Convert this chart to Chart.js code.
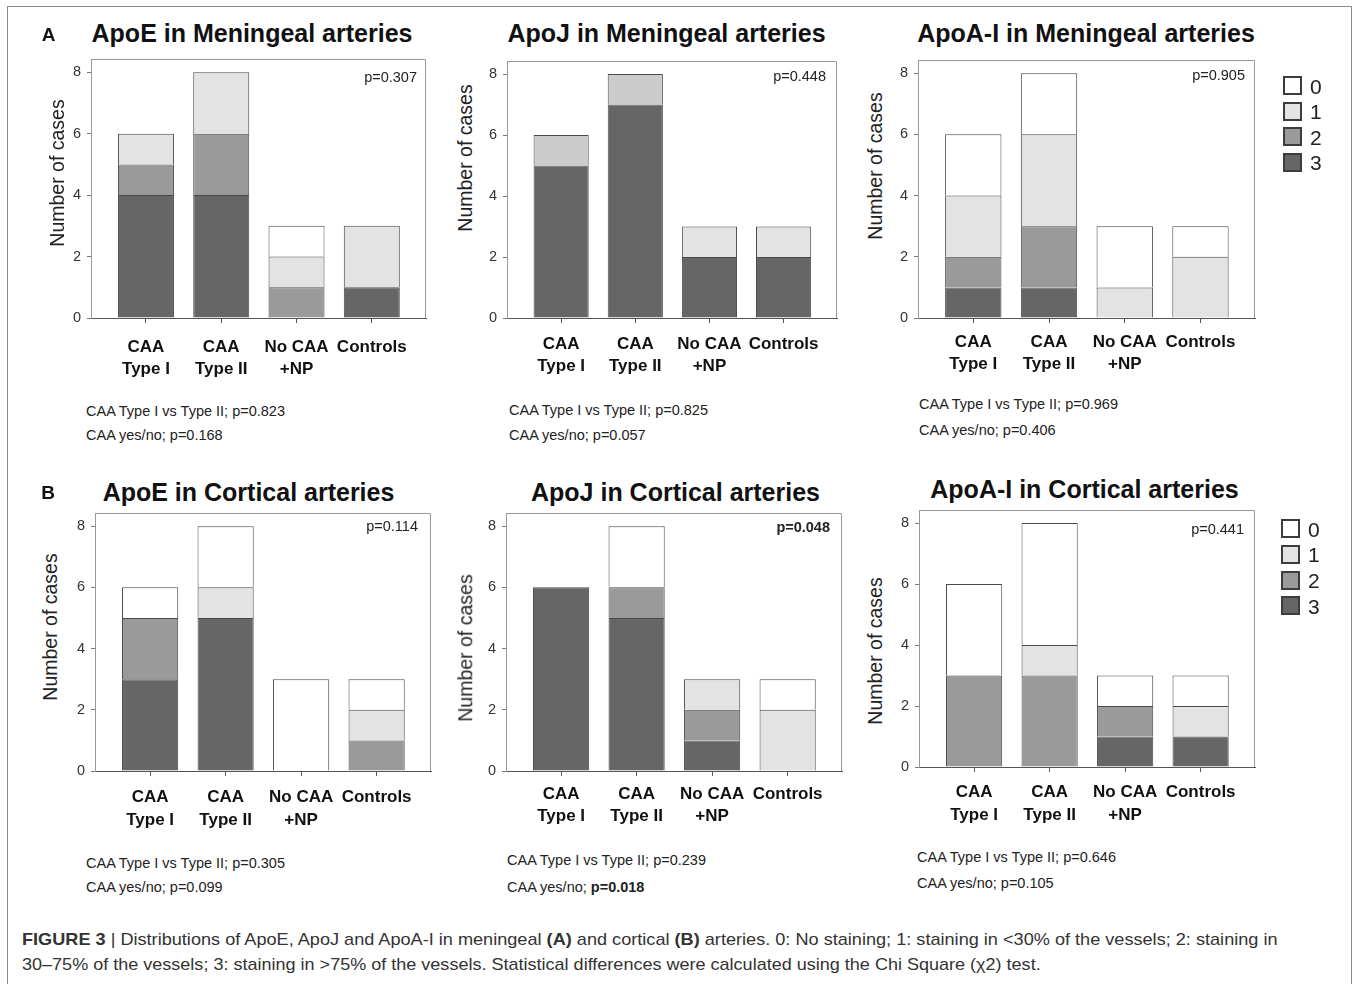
<!DOCTYPE html>
<html>
<head>
<meta charset="utf-8">
<script src="https://cdn.jsdelivr.net/npm/chart.js"></script>
<style>
body { margin:0; background:#fff; width:1357px; height:984px; position:relative; overflow:hidden;
       font-family:"Liberation Sans", Arial, sans-serif; color:#222; }
.t { position:absolute; white-space:nowrap; line-height:1; }
canvas { position:absolute; }
#frame { position:absolute; left:7px; top:6px; width:1345px; height:1010px; border:1px solid #8a8a8a; box-sizing:border-box; }
.key { position:absolute; width:19px; height:19px; box-sizing:border-box; border:2px solid #3c3c3c; }
</style>
</head>
<body>
<div id="frame"></div>
<script>
// categories on the x axis (two-line labels)
var categories = [["CAA", "Type I"], ["CAA", "Type II"], ["No CAA", "+NP"], ["Controls"]];
// staining scores, stacking order bottom -> top
var scoreLabels = ["3", "2", "1", "0"];
var yTicks = [0, 2, 4, 6, 8];

// number of cases; one row per score (3,2,1,0), one column per category
var apoeMeningeal = [[4, 4, 0, 1], [1, 2, 1, 0], [1, 2, 1, 2], [0, 0, 1, 0]];
var apojMeningeal = [[5, 7, 2, 2], [0, 0, 0, 0], [1, 1, 1, 1], [0, 0, 0, 0]];
var apoaMeningeal = [[1, 1, 0, 0], [1, 2, 0, 0], [2, 3, 1, 2], [2, 2, 2, 1]];
var apoeCortical  = [[3, 5, 0, 0], [2, 0, 0, 1], [0, 1, 0, 1], [1, 2, 3, 1]];
var apojCortical  = [[6, 5, 1, 0], [0, 1, 1, 0], [0, 0, 1, 2], [0, 2, 0, 1]];
var apoaCortical  = [[0, 0, 1, 1], [3, 3, 1, 0], [0, 1, 0, 1], [3, 4, 1, 1]];

var titles = ["ApoE in Meningeal arteries", "ApoJ in Meningeal arteries", "ApoA-I in Meningeal arteries",
              "ApoE in Cortical arteries", "ApoJ in Cortical arteries", "ApoA-I in Cortical arteries"];
var pOverall   = ["p=0.307", "p=0.448", "p=0.905", "p=0.114", "p=0.048", "p=0.441"];
var pTypeIvsII = ["p=0.823", "p=0.825", "p=0.969", "p=0.305", "p=0.239", "p=0.646"];
var pYesNo     = ["p=0.168", "p=0.057", "p=0.406", "p=0.099", "p=0.018", "p=0.105"];
var panelData = [apoeMeningeal, apojMeningeal, apoaMeningeal, apoeCortical, apojCortical, apoaCortical];

var caption1 = '<b>FIGURE 3</b> | Distributions of ApoE, ApoJ and ApoA-I in meningeal <b>(A)</b> and cortical <b>(B)</b> arteries. 0: No staining; 1: staining in &lt;30% of the vessels; 2: staining in';
var caption2 = '30–75% of the vessels; 3: staining in &gt;75% of the vessels. Statistical differences were calculated using the Chi Square (χ2) test.';

// ---- layout (pixel positions of each panel) ----
var fills = ["#666666", "#9a9a9a", "#e3e3e3", "#ffffff"];
var boxes = [
  {L:91,  R:426,  T:59,  B:318, title:[252,33],    ax:[57.5,173], p:[417,77],  foot:[86,410.5,435], pad:13},
  {L:507, R:837,  T:61,  B:318, title:[666.5,33],  ax:[466,158],  p:[826,75.5],foot:[509,410,435],  pad:10, shade1:["#cccccc","#cccccc","#e3e3e3","#e3e3e3"]},
  {L:918, R:1255, T:60,  B:318, title:[1086,33],   ax:[876,166],  p:[1245,75], foot:[919,404,430],  pad:8},
  {L:95,  R:431,  T:513, B:771, title:[248.5,492], ax:[50.5,627], p:[418,526], foot:[86,863,887],   pad:10.7},
  {L:506, R:842,  T:513, B:771, title:[675.5,492], ax:[466,648],  p:[830,527], foot:[507,860,887],  pad:7.3},
  {L:919, R:1255, T:510, B:767, title:[1084.5,489],ax:[876,651],  p:[1244,529],foot:[917,857,883],  pad:9.7}
];

function put(html, x, y, css, anchor, rot) {
  var d = document.createElement('div');
  d.className = 't';
  d.innerHTML = html;
  d.style.cssText += css;
  d.style.left = x + 'px';
  d.style.top = y + 'px';
  var tx = anchor === 'l' ? '0' : (anchor === 'r' ? '-100%' : '-50%');
  d.style.transform = 'translate(' + tx + ',-50%)' + (rot ? ' rotate(-90deg)' : '');
  document.body.appendChild(d);
  return d;
}
function pText(p) {
  return parseFloat(p.slice(2)) < 0.05 ? '<b>' + p + '</b>' : p;
}

// draws top and right edge of the plot frame
var frameEdges = {
  id: 'frameEdges',
  beforeDatasetsDraw: function(chart) {
    var a = chart.chartArea, c = chart.ctx;
    c.save();
    c.strokeStyle = '#999';
    c.lineWidth = 1;
    c.beginPath();
    c.moveTo(Math.round(a.left), Math.round(a.top) + 0.5);
    c.lineTo(Math.round(a.right) - 0.5, Math.round(a.top) + 0.5);
    c.lineTo(Math.round(a.right) - 0.5, Math.round(a.bottom));
    c.stroke();
    c.restore();
  }
};

function makePanel(i) {
  var b = boxes[i], counts = panelData[i];
  var yW = 30, xH = 72, pad = 4;
  var w = b.R - b.L + yW + pad, h = b.B - b.T + pad + xH;
  var cv = document.createElement('canvas');
  cv.width = w; cv.height = h;
  cv.style.left = (b.L - yW) + 'px';
  cv.style.top = (b.T - pad) + 'px';
  document.body.appendChild(cv);

  var datasets = scoreLabels.map(function(s, k) {
    var bg = fills[k];
    if (s === "1" && b.shade1) bg = b.shade1;
    return {
      label: s,
      data: counts[k].map(function(v, j) { return {x: j, y: v}; }),
      backgroundColor: bg,
      borderColor: '#4a4a4a',
      borderWidth: 1,
      categoryPercentage: 0.8,
      barPercentage: 0.93
    };
  });

  new Chart(cv, {
    type: 'bar',
    data: {datasets: datasets},
    options: {
      responsive: false,
      animation: false,
      layout: {padding: {top: pad, right: pad, left: 0, bottom: 0}},
      plugins: {legend: {display: false}, tooltip: {enabled: false}},
      scales: {
        x: {
          type: 'linear', stacked: true, min: -0.73, max: 3.72, offset: false,
          afterBuildTicks: function(s) { s.ticks = categories.map(function(c, j) { return {value: j}; }); },
          afterFit: function(s) { s.height = xH; s.paddingLeft = 0; s.paddingRight = 0; },
          ticks: {
            callback: function(v) { return categories[v]; },
            font: {family: 'Liberation Sans', size: 17, weight: 'bold', lineHeight: 1.3},
            color: '#111', padding: b.pad, maxRotation: 0, autoSkip: false
          },
          grid: {display: true, offset: false, drawOnChartArea: false, drawTicks: true, tickLength: 5, color: '#555'},
          border: {display: true, color: '#555'}
        },
        y: {
          stacked: true, min: 0, max: 8.43,
          afterBuildTicks: function(s) { s.ticks = yTicks.map(function(v) { return {value: v}; }); },
          afterFit: function(s) { s.width = yW; s.paddingTop = 0; s.paddingBottom = 0; },
          ticks: {
            callback: function(v) { return String(v); },
            font: {family: 'Liberation Sans', size: 14.5}, color: '#333', padding: 6
          },
          grid: {display: true, drawOnChartArea: false, drawTicks: true, tickLength: 4, color: '#777'},
          border: {display: true, color: '#999'}
        }
      }
    },
    plugins: [frameEdges]
  });

  // texts around the plot
  put(titles[i], b.title[0], b.title[1], 'font-size:25px;font-weight:bold;color:#111;', 'c');
  put('Number of cases', b.ax[0], b.ax[1], 'font-size:19.5px;color:#222;', 'c', true);
  put(pText(pOverall[i]), b.p[0], b.p[1], 'font-size:14.5px;color:#222;', 'r');
  put('CAA Type I vs Type II; ' + pText(pTypeIvsII[i]), b.foot[0], b.foot[1], 'font-size:14.5px;color:#222;', 'l');
  put('CAA yes/no; ' + pText(pYesNo[i]), b.foot[0], b.foot[2], 'font-size:14.5px;color:#222;', 'l');
}

for (var i = 0; i < boxes.length; i++) makePanel(i);

// panel letters
put('A', 48.5, 34, 'font-size:19px;font-weight:bold;color:#111;', 'c');
put('B', 48, 492, 'font-size:19px;font-weight:bold;color:#111;', 'c');

// legends (score 0 on top)
function legend(x, rows) {
  for (var k = 0; k < 4; k++) {
    var idx = scoreLabels.length - 1 - k;
    var sq = document.createElement('div');
    sq.className = 'key';
    sq.style.left = x + 'px';
    sq.style.top = (rows[k] - 9.5) + 'px';
    sq.style.background = fills[idx];
    document.body.appendChild(sq);
    put(scoreLabels[idx], x + 27, rows[k], 'font-size:21px;color:#222;', 'l');
  }
}
legend(1283, [85.5, 111, 136.5, 162]);
legend(1281, [528.5, 554, 580, 605.5]);

// caption, squeezed to the width of the original lines
function captionLine(html, y, width) {
  var d = put(html, 22, y, 'font-size:17px;color:#333;font-family:"Liberation Sans Narrow","Liberation Sans",Arial,sans-serif;', 'l');
  var s = width / d.offsetWidth;
  d.style.transformOrigin = 'left center';
  d.style.transform = 'translateY(-50%) scaleX(' + s + ')';
}
captionLine(caption1, 939, 1256);
captionLine(caption2, 964, 1019);
</script>
</body>
</html>
